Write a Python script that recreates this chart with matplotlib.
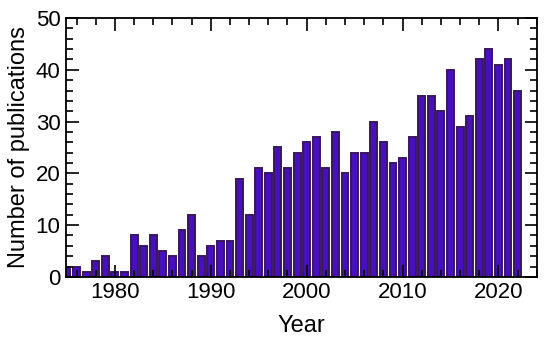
import matplotlib.pyplot as plt
from matplotlib.ticker import MultipleLocator

plt.rcParams['font.family'] = ['Liberation Sans', 'DejaVu Sans']

# Publications par année
years = list(range(1975, 2023))
counts = [2, 2, 1, 3, 4, 1, 1, 8, 6, 8,
          5, 4, 9, 12, 4, 6, 7, 7, 19, 12,
          21, 20, 25, 21, 24, 26, 27, 21, 28, 20,
          24, 24, 30, 26, 22, 23, 27, 35, 35, 32,
          40, 29, 31, 42, 44, 41, 42, 36]

fig = plt.figure(figsize=(5.5, 3.41), dpi=100)
ax = fig.add_axes([0.12, 0.188, 0.856, 0.759])

ax.bar(years, counts, width=0.72, color='#4710BE', edgecolor='#3A1660', linewidth=1.4)

ax.set_xlim(1974.9, 2024.0)
ax.set_ylim(0, 50)
ax.xaxis.set_major_locator(MultipleLocator(10))
ax.xaxis.set_minor_locator(MultipleLocator(2))
ax.yaxis.set_major_locator(MultipleLocator(10))
ax.yaxis.set_minor_locator(MultipleLocator(2))
ax.tick_params(which='both', direction='in', top=True, right=True, labelsize=16, width=1.2)
ax.tick_params(which='major', length=9, pad=4)
ax.tick_params(which='minor', length=5)
for s in ax.spines.values():
    s.set_linewidth(1.3)

ax.set_xlabel("Year", fontsize=17, labelpad=8)
ax.set_ylabel("Number of publications", fontsize=17, labelpad=4)

fig.savefig("out.png", dpi=100)
